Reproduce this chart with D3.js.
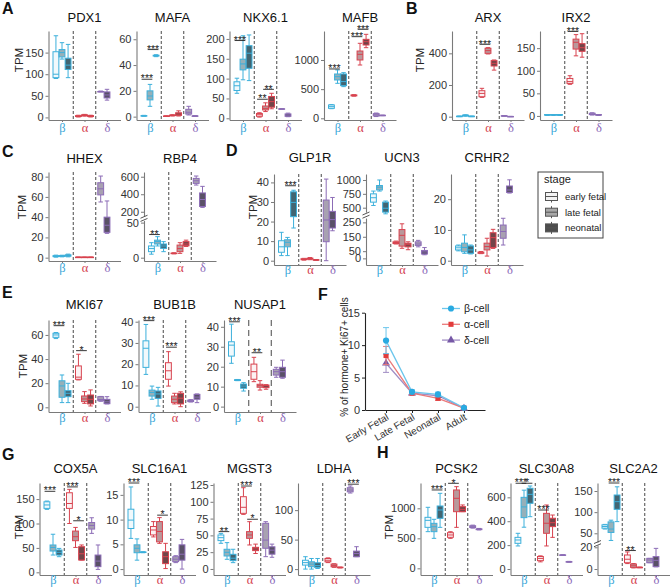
<!DOCTYPE html>
<html><head><meta charset="utf-8">
<script src="https://cdn.jsdelivr.net/npm/d3@7"></script>
<style>body{margin:0;background:#fff}</style>
</head><body><svg id="c" width="671" height="587"></svg>
<script>
// ---------------- DATA ----------------
const cellTypes = ["β","α","δ"];
const stages = ["early fetal","late fetal","neonatal"];
// box order: β early, β late, β neo, α early, α late, α neo, δ late, δ neo  -> [lo,q1,med,q3,hi]
const PDX1 = [[90,92,100,152,189],[135,140,150,157,173],[92,111,121,137,169],[1,2,3,4,5],[3,4,5,6,7],[1,2,3,4,5],[59,60,60,60,61],[40,45,52,59,65]];
const MAFA = [[0.3,0.5,0.6,0.8,1],[8,13,16,20,25],[46.5,47,47.3,47.6,48],[0.2,0.3,0.4,0.5,0.6],[0.5,0.8,1,1.2,1.5],[0.5,1,2,3,4.5],[1.3,2,3.4,5.7,8],[0.3,0.4,0.5,0.6,0.7]];
const NKX61 = [[63,70,82,92,101],[97,122,137,149,208],[95,126,164,183,210],[3,5,9,12,14],[17,21,25,31,39],[24,28,42,55,63],[23,23.5,23.5,24,24],[4,5,8,11,13]];
const MAFB = [[165,171,200,229,235],[600,657,714,760,829],[543,560,630,760,783],[380,385,394,400,405],[914,1000,1097,1154,1286],[1211,1257,1314,1354,1440],[30,40,60,80,90],[45,48,50,52,55]];
const ARX = [[0,1,2,3,4],[3,5,8,10,12],[0,1,2,3,4],[122,126,147,164,179],[396,400,417,432,436],[294,320,337,354,358],[4,5,5,6,6],[0,0.5,1,1.5,2]];
const IRX2 = [[1,2,2,3,3],[1,2,2.5,3,3],[1,2,2,3,3],[70,72,76,83,89],[133,148,163,170,180],[130,143,151,160,182],[2,3,4,6,7],[1,2,2,3,3]];
const HHEX = [[0.5,1,1.5,2,2.5],[0.8,1.2,1.6,2,2.4],[0.8,1.5,2,2.8,3.5],[0.2,0.3,0.4,0.5,0.6],[0.2,0.3,0.4,0.5,0.6],[0.2,0.3,0.4,0.5,0.6],[55,62,68,74,80.6],[24,25,32,40,56]];
const RBP4 = [[5,8.6,13,16.7,21.4],[16.7,19.5,23,25,30],[8.6,13.3,16.7,19.5,22.9],[5.5,6,6.2,6.5,7],[6.2,8.6,13,18,21.4],[16,17,19.5,22.9,25],[505,524,554,581,608],[250,260,340,415,490]];
const GLP1R = [[2.6,4.3,7.1,10.2,14.5],[2.6,7.1,9.4,10.7,11.9],[16.7,22.5,29.8,35.2,36],[0.3,0.5,0.7,1,1.2],[0.5,0.8,1,1.3,1.6],[0.2,0.3,0.4,0.5,0.6],[0,9.7,20.8,31,41.7],[15.3,16.7,21,25.2,32.3]];
const UCN3 = [[540,600,680,750,800],[800,820,870,900,1000],[380,420,490,600,620],[100,103,110,115,120],[70,85,160,200,240],[60,80,95,105,115],[80,90,100,115,125],[25,30,45,55,75]];
const CRHR2 = [[3.2,3.5,4.2,4.8,5.1],[2.4,2.9,4.3,5.7,8.4],[2.2,2.4,3.5,4.8,5.1],[2.3,2.4,2.6,2.8,3],[1.5,3.5,4.6,5.7,7.3],[4,4.3,7.5,9.1,10.2],[5.1,7.3,9.5,11.6,13.8],[22,22.2,23,24.3,26.3]];
const MKI67 = [[57,58,60,61.4,62],[3.9,8.3,17.7,22,26.8],[3.9,8.8,11.6,13.8,19.9],[22.7,23.2,25,34.3,44],[3.3,4.7,6.9,9.4,13],[1.1,2.8,6.6,10.2,14.4],[5,5.5,6.5,8.8,9],[2.8,3,4.5,6.6,8.8]];
const BUB1B = [[15.2,18.5,27.5,31,38.7],[3.5,5,6.7,7.8,9.7],[0.3,3.9,6,7.4,9.1],[9.7,12.9,16.9,20.7,25.9],[1.3,1.9,3.5,5,6.3],[0,1.3,4,6.3,7],[2.2,2.4,2.8,3.1,3.3],[1.9,3.5,4.5,5.8,6]];
const NUSAP1 = [[21.7,25.3,30.8,32.5,41.3],[13,13.1,13.3,13.5,13.6],[7.8,9.2,10.3,11.3,12],[12.5,13.7,17.5,21.3,24.7],[8.3,9.7,10.5,11.2,13],[8.7,9.5,10.5,10.8,11],[14.7,15.8,17.5,18.7,19.7],[14.2,14.7,17.5,19.7,23.3]];
const COX5A = [[129,131,138,144.5,146],[35.4,43.6,51,56,78],[32,35.4,41,45.7,49],[100,131,141,163,170],[51,64.8,73,84.5,92],[25,25.2,38,52.5,56],[79.8,88.6,96,102,111.8],[6,11.6,23,35.4,56]];
const SLC16A1 = [[6.2,8.2,9.9,12.1,16.6],[1.8,3.3,4.2,4.9,6.1],[3.3,3.35,3.4,3.45,3.5],[6.5,6.9,7.9,8.6,9.6],[5.2,5.5,7.6,9.6,10.4],[0.1,1.1,2.5,3.5,5.2],[1.3,1.5,2,2.5,2.7],[0,1.8,3,4.9,6]];
const MGST3 = [[38.2,42.2,46.6,50.6,53],[14.4,19.3,24.8,29.3,39.2],[9.4,12.4,16,21.8,29.3],[81.3,82.8,91.8,107.6,121],[35.7,45.6,50.6,55.6,70.4],[23,27.3,29.8,32.2,37],[18.3,30.8,43,68,70.4],[17.4,22,28,33,37]];
const LDHA = [[0,6.8,11,15,21],[0,4,8.5,12.4,18],[1,3,6,10.7,18],[11,12.4,15,18,19],[3,4,6,8.5,9],[2,2.3,2.8,3.2,3.5],[129,131,134,138,141],[21,21,26.5,30.5,38]];
const PCSK2 = [[611,683,800,850,1017],[500,611,694,750,817],[683,833,972,1039,1250],[500,517,556,594,610],[683,944,1167,1306,1361],[944,944,983,1028,1056],[670,680,694,710,720],[640,645,650,658,665]];
const SLC30A8 = [[193,215,243,265,299],[350,430,520,600,660],[438,550,625,676,695],[60,70,89,105,110],[193,299,383,466,536],[265,355,388,425,452],[115,116,117,118,119],[58,60,61,62,64]];
const SLC2A2 = [[60,62,66,70,71],[33,52,60,77,81],[77.6,106.7,124.8,140.6,160],[5,5.8,9,12.9,15.7],[1,1.5,3,4.6,5],[1.2,1.4,1.5,1.6,1.8],[5.8,5.8,8.3,9.8,9.8],[2,2.2,8,11.4,19]];

// significance: [cell, stageA, stageB, value, label]
const sigMAFA = [[0,0,1,29,"***"],[0,1,2,52,"***"]];
const sigNKX61 = [[0,0,1,196,"***"],[1,0,1,48,"**"],[1,1,2,73,"**"]];
const sigMAFB = [[0,0,1,846,"***"],[1,0,1,1400,"***"],[1,1,2,1526,"***"]];
const sigARX = [[1,0,1,457,"***"]];
const sigIRX2 = [[1,0,1,187,"***"]];
const sigRBP4 = [[0,0,1,33,"**"]];
const sigGLP1R = [[0,1,2,38.3,"***"]];
const sigMKI67 = [[0,0,1,67.7,"***"],[1,0,1,47,"*"]];
const sigBUB1B = [[0,0,1,40.5,"***"],[1,0,1,28,"***"]];
const sigNUSAP1 = [[0,0,1,42.5,"***"],[1,0,1,27,"**"]];
const sigCOX5A = [[0,0,1,166,"***"],[1,0,1,175,"***"],[1,1,2,105.6,"*"]];
const sigSLC16A1 = [[0,0,1,17.4,"***"],[1,1,2,10.9,"*"]];
const sigMGST3 = [[0,0,1,55.6,"**"],[1,0,1,123.5,"***"],[1,1,2,74,"*"]];
const sigLDHA = [[2,1,2,144,"***"]];
const sigPCSK2 = [[0,1,2,1306,"***"],[1,0,1,1417,"*"]];
const sigSLC30A8 = [[0,0,1,718,"***"],[0,1,2,718,"*"],[1,0,1,494,"***"]];
const sigSLC2A2 = [[0,1,2,169,"***"],[1,0,1,17,"**"]];

// panel F
const fStages = ["Early Fetal","Late Fetal","Neonatal","Adult"];
const fBeta = [10.7,2.8,2.4,0.35], fBetaErr = [2.0,0.3,0.35,0.15];
const fAlpha = [8.4,2.6,1.8,0.3], fAlphaErr = [1.4,0.25,0.3,0.1];
const fDelta = [7.2,2.6,2.2,0.25], fDeltaErr = [1.4,0.2,0.3,0.1];
const fSeriesNames = ["β-cell","α-cell","δ-cell"];
const fTicks = [0,5,10,15];

// ---------------- LAYOUT ----------------
const rows = {
  A:{top:31,bottom:120,title:21.5,lab:131.5,tpm:60},
  C:{top:172,bottom:261,title:163,lab:272,tpm:207},
  D:{top:174,bottom:265,title:161.5,lab:274,tpm:207},
  E:{top:320,bottom:412,title:309,lab:422,tpm:366},
  G:{top:483,bottom:575,title:473,lab:583.5,tpm:527}
};
const panels = [
  {name:"PDX1",data:PDX1,sig:[],row:"A",x0:48.5,domain:[-6,200],ticks:[0,50,100,150],tpmX:19},
  {name:"MAFA",data:MAFA,sig:sigMAFA,row:"A",x0:136.5,domain:[-2.6,66.4],ticks:[0,20,40,60]},
  {name:"NKX6.1",data:NKX61,sig:sigNKX61,row:"A",x0:229.5,domain:[-4.3,220],ticks:[0,50,100,150,200]},
  {name:"MAFB",data:MAFB,sig:sigMAFB,row:"A",x0:324,domain:[-29,1497],ticks:[0,500,1000]},
  {name:"ARX",data:ARX,sig:sigARX,row:"A",x0:452,domain:[-21,541],ticks:[0,200,400],tpmX:420},
  {name:"IRX2",data:IRX2,sig:sigIRX2,row:"A",x0:540,domain:[-9,188],ticks:[0,50,100,150]},
  {name:"HHEX",data:HHEX,sig:[],row:"C",x0:48.5,domain:[-3.3,84.6],ticks:[0,20,40,60,80],tpmX:22},
  {name:"RBP4",data:RBP4,sig:sigRBP4,row:"C",x0:144,segs:[{domain:[-4.7,53],frac:[0,0.455],ticks:[0,50]},{domain:[150,654],frac:[0.504,1],ticks:[200,400,600]}]},
  {name:"GLP1R",data:GLP1R,sig:sigGLP1R,row:"D",x0:274,domain:[-2.2,44.3],ticks:[0,10,20,30,40],tpmX:253},
  {name:"UCN3",data:UCN3,sig:[],row:"D",x0:366,segs:[{domain:[-46,280],frac:[0,0.516],ticks:[0,50,150,250]},{domain:[420,1108],frac:[0.581,1],ticks:[500,750,1000]}]},
  {name:"CRHR2",data:CRHR2,sig:[],row:"D",x0:451,domain:[-1.4,28.2],ticks:[0,10,20]},
  {name:"MKI67",data:MKI67,sig:sigMKI67,row:"E",x0:48.5,domain:[-3.9,72.4],ticks:[0,20,40,60],tpmX:23},
  {name:"BUB1B",data:BUB1B,sig:sigBUB1B,row:"E",x0:138.5,domain:[-2.5,40.8],ticks:[0,10,20,30,40]},
  {name:"NUSAP1",data:NUSAP1,sig:sigNUSAP1,row:"E",x0:224,domain:[-2.7,43.4],ticks:[0,10,20,30,40],dash:"6,4"},
  {name:"COX5A",data:COX5A,sig:sigCOX5A,row:"G",x0:39.5,domain:[-5.5,183],ticks:[0,50,100,150],tpmX:18.5},
  {name:"SLC16A1",data:SLC16A1,sig:sigSLC16A1,row:"G",x0:123.5,domain:[-1.2,17.4],ticks:[0,5,10,15]},
  {name:"MGST3",data:MGST3,sig:sigMGST3,row:"G",x0:213.5,domain:[-9,128],ticks:[0,25,50,75,100,125]},
  {name:"LDHA",data:LDHA,sig:sigLDHA,row:"G",x0:298,domain:[-10,146],ticks:[0,50,100]},
  {name:"PCSK2",data:PCSK2,sig:sigPCSK2,row:"G",x0:420.5,domain:[-111,1422],ticks:[0,500,1000],tpmX:389},
  {name:"SLC30A8",data:SLC30A8,sig:sigSLC30A8,row:"G",x0:510.5,domain:[-50,720],ticks:[0,200,400,600]},
  {name:"SLC2A2",data:SLC2A2,sig:sigSLC2A2,row:"G",x0:597.5,segs:[{domain:[-5.5,22],frac:[0,0.325],ticks:[0,20]},{domain:[29,169],frac:[0.357,1],ticks:[50,100,150]}]}
];

// ---------------- STYLE ----------------
const SANS = "'Liberation Sans', Arial, sans-serif";
const SERIF = "'Liberation Serif', 'DejaVu Serif', serif";
const cellColor = ["#3cb0db","#d8434f","#8c6cb6"];
const labColor = ["#3aa6d9","#d4404e","#8a68b8"];
const boxKeys = [[0,0],[0,1],[0,2],[1,0],[1,1],[1,2],[2,1],[2,2]];
const dodge = [[-0.27,0,0.27],[-0.27,0,0.27],[null,-0.28,0]];
const BW = 0.26, UNITW = 22.5;
function fillFor(c,s){
  if(s===0) return d3.interpolateRgb("#ffffff",cellColor[c])(0.07);
  if(s===1) return d3.interpolateRgb("#b0b0b0",cellColor[c])(0.22);
  return d3.interpolateRgb("#454545",cellColor[c])(0.3);
}
const svg = d3.select("#c");

function styleAxis(ax){
  ax.attr("font-family",SANS).attr("font-size",11);
  ax.select(".domain").attr("stroke","#7a7a7a").attr("stroke-width",1.1);
  ax.selectAll(".tick line").attr("stroke","#7a7a7a");
  ax.selectAll(".tick text").attr("fill","#333");
}

function drawPanel(p){
  const r = rows[p.row];
  const g = svg.append("g");
  const x = d3.scaleLinear().domain([0.4,3.6]).range([p.x0, p.x0 + 3.2*UNITW]);
  let y, segs;
  if(p.segs){
    const H = r.bottom - r.top;
    segs = p.segs.map(s=>({domain:s.domain, range:[r.bottom - s.frac[0]*H, r.bottom - s.frac[1]*H], ticks:s.ticks}));
    y = d3.scaleLinear().domain([segs[0].domain[0],segs[0].domain[1],segs[1].domain[0],segs[1].domain[1]])
          .range([segs[0].range[0],segs[0].range[1],segs[1].range[0],segs[1].range[1]]);
  } else {
    y = d3.scaleLinear().domain(p.domain).range([r.bottom, r.top]);
    segs = [{domain:p.domain, range:[r.bottom,r.top], ticks:p.ticks}];
  }
  [1.5,2.5].forEach(v=>{
    g.append("line").attr("x1",x(v)).attr("x2",x(v)).attr("y1",r.top).attr("y2",r.bottom)
      .attr("stroke","#333").attr("stroke-width",0.9).attr("stroke-dasharray",p.dash||"3,2");
  });
  p.data.forEach((d,i)=>{
    const [c,s] = boxKeys[i];
    const cx = x(c+1+dodge[c][s]);
    const w = x(BW) - x(0);
    const [lo,q1,med,q3,hi] = d;
    const col = cellColor[c];
    const bg = g.append("g");
    bg.append("line").attr("x1",cx).attr("x2",cx).attr("y1",y(hi)).attr("y2",y(q3)).attr("stroke",col);
    bg.append("line").attr("x1",cx).attr("x2",cx).attr("y1",y(q1)).attr("y2",y(lo)).attr("stroke",col);
    [hi,lo].forEach(v=>bg.append("line").attr("x1",cx-w*0.38).attr("x2",cx+w*0.38).attr("y1",y(v)).attr("y2",y(v)).attr("stroke",col));
    bg.append("rect").attr("x",cx-w/2).attr("y",y(q3)).attr("width",w).attr("height",Math.max(0.5,y(q1)-y(q3)))
      .attr("fill",fillFor(c,s)).attr("stroke",col).attr("stroke-width",1);
    bg.append("line").attr("x1",cx-w/2).attr("x2",cx+w/2).attr("y1",y(med)).attr("y2",y(med)).attr("stroke",col).attr("stroke-width",1);
  });
  segs.forEach(s=>{
    const sc = d3.scaleLinear().domain(s.domain).range(s.range);
    const ax = g.append("g").attr("transform",`translate(${p.x0},0)`)
      .call(d3.axisLeft(sc).tickValues(s.ticks).tickSize(3).tickSizeOuter(0).tickPadding(2).tickFormat(d3.format("d")));
    styleAxis(ax);
  });
  if(p.segs){
    const gy = (segs[0].range[1]+segs[1].range[0])/2;
    [-1.6,1.6].forEach(o=>g.append("line").attr("x1",p.x0-3.5).attr("x2",p.x0+3.5).attr("y1",gy+o+1.5).attr("y2",gy+o-1.5)
      .attr("stroke","#555").attr("stroke-width",1));
  }
  const xa = g.append("g").attr("transform",`translate(0,${r.bottom})`)
    .call(d3.axisBottom(x).tickValues([1,2,3]).tickSize(2).tickSizeOuter(0).tickFormat((d,i)=>cellTypes[i]));
  styleAxis(xa);
  xa.selectAll(".tick text").attr("font-family",SERIF).attr("font-size",12.5).attr("dy",0)
    .attr("y",r.lab - r.bottom).attr("fill",(d,i)=>labColor[i]);
  p.sig.forEach(([c,a,b,v,lab])=>{
    const w = x(BW) - x(0);
    const xa1 = x(c+1+dodge[c][a]) - w*0.4, xb = x(c+1+dodge[c][b]) + w*0.4;
    g.append("line").attr("x1",xa1).attr("x2",xb).attr("y1",y(v)).attr("y2",y(v)).attr("stroke","#222").attr("stroke-width",0.9);
    g.append("text").attr("x",(xa1+xb)/2).attr("y",y(v)+3.2).attr("text-anchor","middle")
      .attr("font-family",SANS).attr("font-size",10.5).attr("fill","#222").text(lab);
  });
  g.append("text").attr("x",x(2)).attr("y",r.title).attr("text-anchor","middle")
    .attr("font-family",SANS).attr("font-size",13).attr("fill","#111").text(p.name);
  if(p.tpmX!==undefined){
    g.append("text").attr("transform",`translate(${p.tpmX+4},${r.tpm}) rotate(-90)`).attr("text-anchor","middle")
      .attr("font-family",SANS).attr("font-size",11.5).attr("fill","#222").text("TPM");
  }
}
panels.forEach(drawPanel);

// stage legend
(function(){
  const g = svg.append("g");
  g.append("rect").attr("x",538).attr("y",172).attr("width",65).attr("height",66).attr("fill","#fff").attr("stroke","#444").attr("stroke-width",1);
  g.append("text").attr("x",544).attr("y",183).attr("font-family",SANS).attr("font-size",11).attr("fill","#222").text("stage");
  const fills = ["#f2f2f2","#a9a9a9","#4d4d4d"];
  stages.forEach((s,i)=>{
    const cy = 196.5 + i*15.7;
    g.append("line").attr("x1",551.5).attr("x2",551.5).attr("y1",cy-6).attr("y2",cy+6).attr("stroke","#555");
    g.append("rect").attr("x",545.5).attr("y",cy-4).attr("width",12).attr("height",8).attr("fill",fills[i]).attr("stroke","#555");
    g.append("line").attr("x1",545.5).attr("x2",557.5).attr("y1",cy).attr("y2",cy).attr("stroke","#555");
    g.append("text").attr("x",565).attr("y",cy+3.5).attr("font-family",SANS).attr("font-size",9.5).attr("fill","#222").text(s);
  });
})();

// panel F
(function(){
  const g = svg.append("g");
  const fx = d3.scalePoint().domain(fStages).range([365,485]).padding(0.81);
  const fy = d3.scaleLinear().domain([0,15]).range([410,312.7]);
  const ya = g.append("g").attr("transform","translate(365,0)").call(d3.axisLeft(fy).tickValues(fTicks).tickSize(3).tickSizeOuter(0).tickPadding(2));
  styleAxis(ya); ya.select(".domain").attr("stroke","#222"); ya.selectAll(".tick line").attr("stroke","#222");
  const xa = g.append("g").attr("transform","translate(0,410)").call(d3.axisBottom(fx).tickSize(3).tickSizeOuter(0));
  styleAxis(xa); xa.select(".domain").attr("stroke","#222"); xa.selectAll(".tick line").attr("stroke","#222");
  xa.selectAll(".tick text").attr("font-size",10).attr("text-anchor","end").attr("dy",0).attr("y",0)
    .attr("transform","translate(3,9) rotate(-30)");
  g.append("text").attr("transform","translate(348,357) rotate(-90)").attr("text-anchor","middle")
    .attr("font-family",SANS).attr("font-size",10).attr("fill","#222").text("% of hormone+ Ki67+ cells");
  const series = [
    {v:fBeta,e:fBetaErr,mc:"#29aae1",lc:"#6cc6ec",shape:d3.symbolCircle,sz:30},
    {v:fAlpha,e:fAlphaErr,mc:"#e23b3b",lc:"#ea7a7a",shape:d3.symbolSquare,sz:26},
    {v:fDelta,e:fDeltaErr,mc:"#7658a6",lc:"#a08dc4",shape:d3.symbolTriangle,sz:28}
  ];
  series.slice().reverse().forEach(s=>{
    g.append("path").attr("d",d3.line().x((d,i)=>fx(fStages[i])).y(d=>fy(d))(s.v)).attr("fill","none").attr("stroke",s.lc).attr("stroke-width",1.3);
    s.v.forEach((v,i)=>{
      const cx = fx(fStages[i]);
      g.append("line").attr("x1",cx).attr("x2",cx).attr("y1",fy(v-s.e[i])).attr("y2",fy(v+s.e[i])).attr("stroke",s.lc);
      [v-s.e[i],v+s.e[i]].forEach(e=>g.append("line").attr("x1",cx-3).attr("x2",cx+3).attr("y1",fy(e)).attr("y2",fy(e)).attr("stroke",s.lc));
      g.append("path").attr("d",d3.symbol().type(s.shape).size(s.sz)()).attr("transform",`translate(${cx},${fy(v)})`).attr("fill",s.mc);
    });
  });
  series.forEach((s,i)=>{
    const ly = 308.5 + i*15.8;
    g.append("line").attr("x1",442).attr("x2",460).attr("y1",ly).attr("y2",ly).attr("stroke",s.lc).attr("stroke-width",1.3);
    g.append("path").attr("d",d3.symbol().type(s.shape).size(s.sz)()).attr("transform",`translate(451,${ly})`).attr("fill",s.mc);
    g.append("text").attr("x",464).attr("y",ly+3.5).attr("font-family",SANS).attr("font-size",10.5).attr("fill","#222").text(fSeriesNames[i]);
  });
})();

// panel letters
[["A",2,13.5],["B",406,13.5],["C",2,157],["D",226,156],["E",2,298],["F",318,300],["G",2,460],["H",377,458]].forEach(([t,x,y])=>{
  svg.append("text").attr("x",x).attr("y",y).attr("font-family",SANS).attr("font-weight","bold").attr("font-size",16).attr("fill","#111").text(t);
});
</script></body></html>
